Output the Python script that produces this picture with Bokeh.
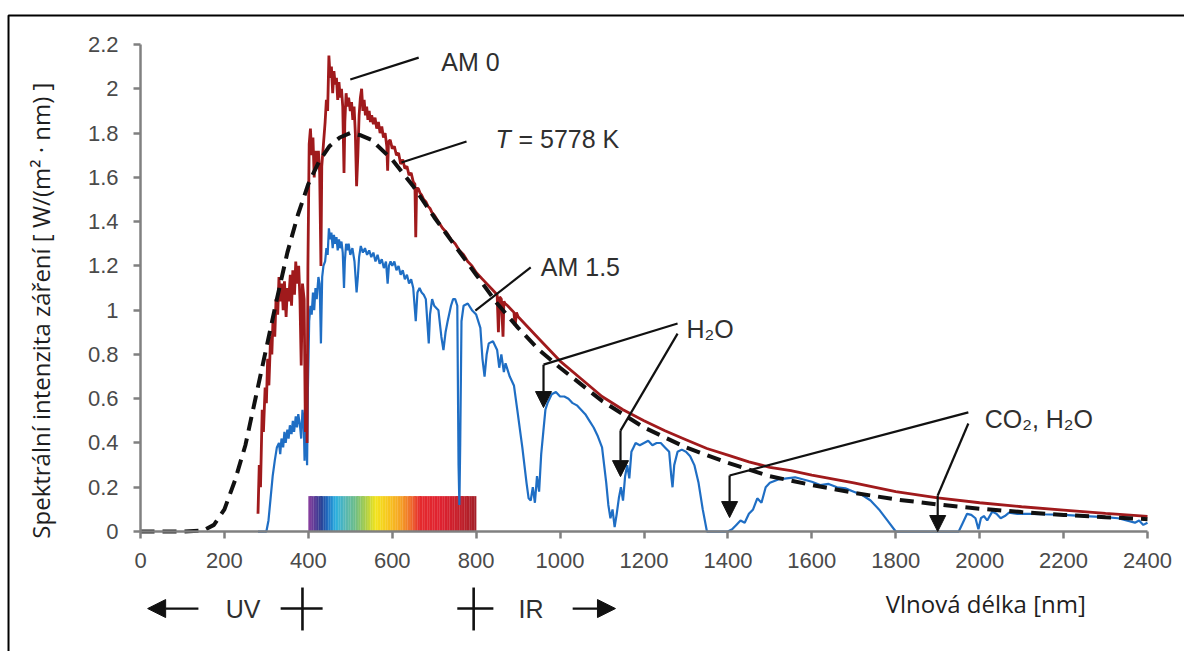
import numpy as np
from math import pi
from bokeh.plotting import figure
from bokeh.models import Label, Arrow, NormalHead, FixedTicker, Range1d
from bokeh.embed import file_html
from bokeh.resources import INLINE

# ---------------- data ----------------
bb_nm = [0, 50, 100, 150, 175, 200, 225, 250, 275, 300, 325, 350, 375, 400, 425, 450, 475,
         500, 525, 550, 600, 650, 700, 750, 800, 850, 900, 950, 1000, 1100, 1200, 1300,
         1400, 1500, 1600, 1700, 1800, 1900, 2000, 2100, 2200, 2300, 2400]
bb_val = [0, 0, 0, 0.005, 0.03, 0.10, 0.23, 0.39, 0.61, 0.83, 1.05, 1.26, 1.43, 1.57, 1.67,
          1.74, 1.78, 1.80, 1.79, 1.77, 1.68, 1.56, 1.42, 1.29, 1.16, 1.03, 0.92, 0.82, 0.74,
          0.59, 0.47, 0.38, 0.31, 0.25, 0.21, 0.175, 0.145, 0.122, 0.103, 0.088, 0.075,
          0.065, 0.056]

am0_nm = [280, 283, 286, 290, 293, 297, 300, 303, 306, 310, 313, 316, 320, 323, 327, 330, 333,
          337, 340, 343, 347, 350, 353, 357, 360, 363, 367, 370, 373, 377, 380, 383, 386, 390,
          393, 395, 397, 399, 402, 405, 408, 411, 414, 417, 420, 424, 427, 430, 432, 436, 440,
          443, 446, 449, 452, 455, 458, 461, 464, 467, 470, 473, 476, 479, 482, 485, 487, 490,
          493, 496, 500, 503, 506, 509, 512, 515, 518, 521, 524, 527, 530, 533, 536, 539, 542,
          545, 548, 551, 555, 559, 563, 567, 571, 575, 579, 583, 587, 589, 591, 595, 600, 605,
          610, 615, 620, 625, 630, 635, 640, 645, 650, 654, 656, 658, 662, 666, 670, 675, 680,
          685, 690, 695, 700, 710, 720, 730, 740, 750, 760, 770, 780, 790, 800, 820, 840, 850,
          853, 856, 860, 864, 866, 869, 875, 890, 893, 896, 900, 950, 1000, 1050, 1100, 1150,
          1200, 1250, 1300, 1350, 1400, 1450, 1500, 1550, 1600, 1700, 1800, 1900, 2000, 2100,
          2200, 2300, 2400]
am0_val = [0.08, 0.30, 0.20, 0.55, 0.45, 0.65, 0.58, 0.78, 0.66, 0.88, 0.80, 0.97, 0.88, 1.05,
           0.98, 1.15, 1.04, 1.12, 1.00, 1.13, 0.97, 1.10, 1.04, 1.16, 1.02, 1.18, 1.07, 1.22,
           1.12, 1.20, 1.05, 0.75, 1.12, 1.05, 0.45, 0.80, 0.40, 1.20, 1.75, 1.82, 1.70, 1.78,
           1.60, 1.72, 1.65, 1.72, 1.62, 1.20, 1.65, 1.75, 1.85, 1.95, 1.90, 2.15, 2.05, 2.10,
           1.98, 2.08, 2.02, 2.05, 1.95, 2.03, 1.96, 2.00, 1.92, 1.62, 1.85, 1.98, 1.92, 1.96,
           1.90, 1.94, 1.86, 1.92, 1.80, 1.56, 1.70, 1.88, 1.96, 2.00, 1.90, 1.95, 1.88, 1.92,
           1.86, 1.90, 1.85, 1.88, 1.84, 1.87, 1.82, 1.85, 1.80, 1.83, 1.78, 1.80, 1.74, 1.63,
           1.76, 1.77, 1.73, 1.74, 1.70, 1.71, 1.66, 1.68, 1.64, 1.65, 1.61, 1.62, 1.58, 1.57,
           1.33, 1.55, 1.55, 1.53, 1.52, 1.50, 1.49, 1.47, 1.46, 1.44, 1.43, 1.40, 1.37, 1.35,
           1.32, 1.30, 1.27, 1.25, 1.22, 1.20, 1.17, 1.13, 1.09, 1.07, 0.90, 1.06, 1.05, 0.88,
           1.04, 1.03, 1.02, 0.99, 0.93, 0.99, 0.97, 0.87, 0.77, 0.69, 0.61, 0.55, 0.50, 0.455,
           0.415, 0.375, 0.345, 0.315, 0.29, 0.275, 0.255, 0.22, 0.18, 0.152, 0.13, 0.112,
           0.097, 0.082, 0.068]

am15_nm = [280, 300, 305, 310, 315, 320, 325, 330, 333, 336, 340, 343, 346, 350, 353, 356, 360,
           363, 366, 370, 373, 376, 380, 383, 386, 389, 391, 393, 395, 397, 399, 402, 405, 408,
           411, 414, 417, 420, 424, 427, 430, 433, 436, 440, 443, 446, 449, 452, 455, 458, 461,
           464, 467, 470, 473, 476, 479, 482, 485, 487, 490, 493, 496, 500, 505, 510, 515, 518,
           521, 525, 530, 535, 540, 545, 550, 555, 560, 565, 570, 575, 580, 585, 589, 592, 596,
           600, 605, 610, 615, 620, 625, 630, 635, 640, 645, 650, 656, 660, 665, 670, 675, 680,
           687, 690, 695, 700, 710, 717, 722, 727, 732, 740, 745, 750, 755, 758, 760, 762, 765,
           770, 780, 790, 800, 810, 815, 820, 825, 830, 840, 850, 855, 860, 866, 870, 880, 890,
           898, 905, 910, 915, 920, 925, 930, 935, 940, 945, 950, 955, 960, 965, 970, 980, 990,
           1000, 1010, 1020, 1030, 1040, 1050, 1060, 1070, 1080, 1090, 1100, 1105, 1110, 1115,
           1120, 1125, 1130, 1135, 1140, 1145, 1150, 1155, 1160, 1165, 1170, 1175, 1180, 1190,
           1200, 1210, 1220, 1230, 1240, 1250, 1260, 1265, 1268, 1272, 1280, 1290, 1300, 1310,
           1320, 1330, 1340, 1350, 1400, 1410, 1420, 1430, 1440, 1450, 1460, 1470, 1480, 1490,
           1500, 1520, 1540, 1560, 1580, 1600, 1620, 1640, 1660, 1680, 1700, 1720, 1740, 1760,
           1780, 1800, 1950, 1960, 1970, 1980, 1990, 1997, 2003, 2010, 2018, 2030, 2040, 2050,
           2060, 2070, 2090, 2120, 2150, 2200, 2250, 2300, 2330, 2350, 2370, 2380, 2390, 2400]
am15_val = [0, 0, 0.05, 0.15, 0.25, 0.32, 0.38, 0.40, 0.35, 0.42, 0.38, 0.45, 0.40, 0.46, 0.42,
            0.48, 0.44, 0.50, 0.45, 0.52, 0.47, 0.53, 0.48, 0.42, 0.55, 0.50, 0.32, 0.55, 0.45,
            0.30, 0.65, 0.95, 1.02, 0.98, 1.08, 1.00, 1.10, 1.05, 1.15, 1.12, 0.85, 1.15, 1.20,
            1.22, 1.28, 1.25, 1.37, 1.32, 1.35, 1.28, 1.34, 1.30, 1.33, 1.27, 1.32, 1.28, 1.31,
            1.26, 1.10, 1.22, 1.30, 1.27, 1.30, 1.25, 1.28, 1.22, 1.08, 1.15, 1.24, 1.29, 1.26,
            1.28, 1.25, 1.27, 1.24, 1.26, 1.22, 1.25, 1.21, 1.23, 1.19, 1.22, 1.12, 1.20, 1.22,
            1.20, 1.22, 1.18, 1.20, 1.16, 1.18, 1.14, 1.16, 1.12, 1.14, 1.10, 0.95, 1.08, 1.10,
            1.08, 1.07, 1.05, 0.85, 0.98, 1.05, 1.02, 1.00, 0.88, 0.82, 0.90, 0.95, 1.02, 1.05,
            1.05, 1.02, 0.30, 0.12, 0.40, 0.95, 1.02, 1.03, 1.00, 0.98, 0.92, 0.78, 0.70, 0.80,
            0.85, 0.86, 0.82, 0.74, 0.80, 0.72, 0.76, 0.70, 0.66, 0.55, 0.45, 0.38, 0.30, 0.22,
            0.15, 0.14, 0.20, 0.13, 0.25, 0.18, 0.35, 0.45, 0.55, 0.58, 0.62, 0.63, 0.61, 0.61,
            0.60, 0.58, 0.57, 0.55, 0.53, 0.50, 0.47, 0.43, 0.38, 0.30, 0.22, 0.12, 0.06, 0.10,
            0.02, 0.08, 0.15, 0.20, 0.14, 0.25, 0.30, 0.24, 0.36, 0.38, 0.40, 0.39, 0.40, 0.41,
            0.39, 0.40, 0.40, 0.38, 0.36, 0.25, 0.20, 0.30, 0.36, 0.37, 0.36, 0.34, 0.30, 0.22,
            0.10, 0.0, 0.0, 0.01, 0.03, 0.05, 0.04, 0.08, 0.10, 0.15, 0.13, 0.20, 0.22, 0.235,
            0.24, 0.245, 0.235, 0.225, 0.21, 0.215, 0.20, 0.195, 0.18, 0.165, 0.14, 0.10, 0.05,
            0.0, 0.0, 0.04, 0.08, 0.075, 0.06, 0.01, 0.06, 0.07, 0.05, 0.09, 0.08, 0.06, 0.07,
            0.085, 0.08, 0.08, 0.078, 0.075, 0.07, 0.065, 0.06, 0.05, 0.04, 0.05, 0.03, 0.04]

x_ticks = [0, 200, 400, 600, 800, 1000, 1200, 1400, 1600, 1800, 2000, 2200, 2400]
y_ticks = [0, 0.2, 0.4, 0.6, 0.8, 1, 1.2, 1.4, 1.6, 1.8, 2, 2.2]
y_tick_labels = ["0", "0.2", "0.4", "0.6", "0.8", "1", "1.2", "1.4", "1.6", "1.8", "2", "2.2"]

# visible-spectrum colour bar: colour stops (nm -> colour) and its height
spectrum_nm = [400, 415, 430, 445, 465, 490, 510, 535, 560, 595, 620, 645, 665, 715, 760, 800]
spectrum_colors = ["#8a3f9e", "#5a3a95", "#2a3f93", "#1f6bbf", "#2cb0e0", "#5ab8b0", "#6cbd8a",
                   "#a6cc4a", "#f2e41d", "#f7c11f", "#f5a125", "#ee6a2b", "#e52a2d", "#df2230",
                   "#c41f2a", "#a31f28"]
spectrum_top = 0.16

# ---------------- figure ----------------
# the frame fills the whole canvas; the axes are pinned at 0 so that the
# annotations below / left of the axes stay visible
W, H = 1184, 651
p = figure(width=W, height=H, x_range=Range1d(-333.7, 2488.2), y_range=Range1d(-0.542, 2.399),
           output_backend="svg", toolbar_location=None,
           min_border=0, min_border_left=0, min_border_right=0, min_border_top=0,
           min_border_bottom=0)
p.outline_line_color = None
p.grid.visible = False
p.background_fill_color = "white"
p.border_fill_color = "white"

for ax in (p.xaxis[0], p.yaxis[0]):
    ax.fixed_location = 0
    ax.axis_line_color = "#808080"
    ax.axis_line_width = 2.5
    ax.major_tick_line_color = "#808080"
    ax.major_tick_line_width = 2.5
    ax.major_tick_out = 7
    ax.major_tick_in = 0
    ax.minor_tick_line_color = None
    ax.major_label_text_font = "Liberation Sans"
    ax.major_label_text_font_size = "22px"
    ax.major_label_text_color = "#4a4a4a"
p.xaxis.bounds = (x_ticks[0], x_ticks[-1])
p.yaxis.bounds = (y_ticks[0], y_ticks[-1])
p.xaxis.ticker = FixedTicker(ticks=x_ticks)
p.yaxis.ticker = FixedTicker(ticks=y_ticks)
p.yaxis.major_label_overrides = {t: s for t, s in zip(y_ticks, y_tick_labels)}
p.xaxis.major_label_standoff = 14
p.yaxis.major_label_standoff = 15

# image frame (top and left edges)
p.line([-314.6, -314.6, 3000], [-1, 2.331, 2.331], line_color="black", line_width=2)

# colour bar from gradient stops
def _rgb(h):
    return np.array([int(h[i:i + 2], 16) for i in (1, 3, 5)], dtype=float)
stops = np.array([_rgb(c) for c in spectrum_colors])
edges = np.linspace(spectrum_nm[0], spectrum_nm[-1], 101)
mids = 0.5 * (edges[:-1] + edges[1:])
cols = []
for m in mids:
    rgb = [np.interp(m, spectrum_nm, stops[:, k]) for k in range(3)]
    cols.append("#%02x%02x%02x" % tuple(int(round(v)) for v in rgb))
p.quad(left=edges[:-1], right=edges[1:] + 0.5, bottom=0, top=spectrum_top,
       fill_color=cols, line_color=None)

# spectra
p.line(am15_nm, am15_val, line_color="#1f6ec4", line_width=2.2)
p.line(am0_nm, am0_val, line_color="#a01a1c", line_width=2.8)
p.line(bb_nm, bb_val, line_color="#111111", line_width=4, line_dash="14 8")

# ---------------- annotations ----------------
TXT = "#2f2f2f"
def lab(x, y, text, size="25px", font="Liberation Sans", color=TXT, align="left", **kw):
    p.add_layout(Label(x=x, y=y, text=text, text_font=font, text_font_size=size,
                       text_color=color, text_baseline="middle", text_align=align, **kw))

def seg(xs, ys, w=2.2):
    p.line(xs, ys, line_color="#111111", line_width=w)

def arrow(x0, y0, x1, y1, size=16, w=2.2):
    p.add_layout(Arrow(x_start=x0, y_start=y0, x_end=x1, y_end=y1, line_color="#111111",
                       line_width=w, end=NormalHead(size=size, fill_color="#111111",
                                                    line_color="#111111", line_width=1)))

def bar(x0, y0, x1, y1, w=2.6):
    p.add_layout(Arrow(x_start=x0, y_start=y0, x_end=x1, y_end=y1, line_color="#111111",
                       line_width=w, end=None))

# curve labels with leaders
lab(717, 2.123, "AM 0")
seg([500, 663], [2.042, 2.141])
lab(846, 1.775, "T", text_font_style="italic")
lab(846, 1.775, "= 5778 K", x_offset=23)
seg([622, 777], [1.667, 1.762])
lab(954, 1.195, "AM 1.5")
seg([798, 930], [0.998, 1.193])

# absorption bands
lab(1301, 0.917, "H\u2082O")
seg([1280, 960.5], [0.94, 0.754])
arrow(960.5, 0.754, 960.5, 0.56)
seg([1280, 1144], [0.894, 0.456])
arrow(1144, 0.456, 1144, 0.248)
lab(2012, 0.507, "CO\u2082, H\u2082O")
seg([1973, 1404], [0.538, 0.253])
arrow(1404, 0.253, 1404, 0.063)
seg([1973, 1900], [0.488, 0.163])
arrow(1900, 0.163, 1900, 0.0)

# UV / IR marks below the axis
arrow(138, -0.348, 17, -0.348, size=18)
lab(203, -0.348, "UV")
bar(334, -0.348, 434, -0.348)
bar(386, -0.253, 386, -0.447)
bar(755, -0.348, 841, -0.348)
bar(794, -0.253, 794, -0.447)
lab(901, -0.348, "IR")
arrow(1030, -0.348, 1132, -0.348, size=18)

# axis titles
lab(1776, -0.325, "Vlnová délka [nm]", size="24px", font="Open Sans", color="#1e1e1e")
lab(-238, 0.998, "Spektrální intenzita záření [ W/(m\u00b2 \u00b7 nm) ]", size="24px",
    font="Open Sans", color="#1e1e1e", align="center", angle=pi / 2)

open("out.html", "w").write(file_html(p, INLINE))
